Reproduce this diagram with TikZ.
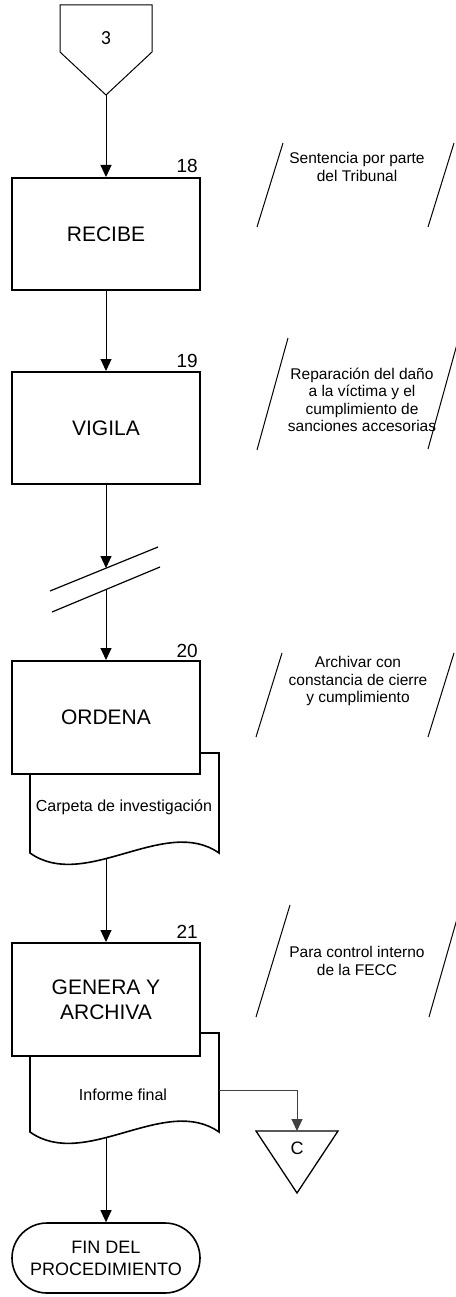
\documentclass[tikz,border=0pt]{standalone}
\usepackage{fontspec}
\setmainfont{Liberation Sans}
\newfontfamily\numfont{Carlito}
\usetikzlibrary{arrows.meta,calc}
\tikzset{
 stepbox/.style={draw, line width=2pt, fill=white, minimum width=188pt, minimum height=112pt, inner sep=0pt, font=\fontsize{21}{25}\selectfont, align=center},
 numlbl/.style={font=\fontsize{19}{22}\selectfont, anchor=base east, inner sep=0pt},
 annline/.style={line width=1pt},
 anntext/.style={font=\fontsize{15.5}{17.5}\selectfont, align=center, inner sep=0pt},
 doctext/.style={font=\fontsize{16}{19}\selectfont, inner sep=0pt},
 docline/.style={line width=1.6pt, fill=white},
 conn/.style={line width=1pt, -{Triangle[width=11pt,length=12pt]}},
 plainline/.style={line width=1.2pt},
}
\begin{document}
\begin{tikzpicture}[x=1pt,y=-1pt]
\useasboundingbox (0,0) rectangle (455,1297);

% off-page connector 3
\draw[line width=1pt] (60,5) -- (152,5) -- (152,52) -- (106,95) -- (60,52) -- cycle;
\node[font=\numfont\fontsize{20}{24}\selectfont, inner sep=0pt] (off3) at (106,38) {3};
\coordinate (offtip) at (106,95);

% documents (behind boxes)
\draw[docline] (30,753) -- (219,753) -- (219,853) .. controls (165,815) and (85,892) .. (30,853) -- cycle;
\node[doctext] (doc20) at (124,807) {Carpeta de investigación};
\coordinate (doc20b) at (106,859);

\draw[docline] (30,1033) -- (219,1033) -- (219,1132) .. controls (165,1094) and (85,1171) .. (30,1132) -- cycle;
\node[doctext] (doc21) at (123,1095) {Informe final};
\coordinate (doc21b) at (106,1138);
\coordinate (doc21r) at (219,1090);

% step boxes
\node[stepbox] (b18) at (106,234) {RECIBE};
\node[stepbox] (b19) at (106,428) {VIGILA};
\node[stepbox, minimum height=113pt] (b20) at (106,717.5) {ORDENA};
\node[stepbox, minimum height=113pt] (b21) at (106,999.5) {GENERA Y\\ARCHIVA};

\node[numlbl] (n18) at ([xshift=-3pt,yshift=4pt]b18.north east) {18};
\node[numlbl] (n19) at ([xshift=-3pt,yshift=4pt]b19.north east) {19};
\node[numlbl] (n20) at ([xshift=-3pt,yshift=3pt]b20.north east) {20};
\node[numlbl] (n21) at ([xshift=-3pt,yshift=4pt]b21.north east) {21};

% break marks
\draw[plainline] (50,591) -- (158,547);
\draw[plainline] (52,612) -- (160,567);
\coordinate (brkA) at (106,568);
\coordinate (brkB) at (106,589.5);

% end terminator
\node[draw, line width=1.6pt, rounded corners=35pt, minimum width=188pt, minimum height=70pt, inner sep=0pt, align=center, font=\fontsize{18}{22}\selectfont] (fin) at (106,1258) {FIN DEL\\PROCEDIMIENTO};

% connector C
\draw[line width=1.3pt] (256,1131) -- (338,1131) -- (297,1193) -- cycle;
\node[font=\fontsize{18}{22}\selectfont, inner sep=0pt] (C) at (297,1148) {C};
\coordinate (Ctop) at (297,1131);

% connectors
\draw[conn] (offtip) -- (b18.north);
\draw[conn] (b18.south) -- (b19.north);
\draw[conn] (b19.south) -- (brkA);
\draw[conn] (brkB) -- (b20.north);
\draw[conn] (doc20b) -- (b21.north);
\draw[conn] (doc21b) -- (fin.north);
\draw[conn, black!75] (doc21r) -| (Ctop);

% annotations
\draw[annline] (257,227) -- (283,143);
\draw[annline] (428,227) -- (454,143);
\node[anntext] (a18) at (357,167) {Sentencia por parte\\del Tribunal};

\draw[annline] (257,450) -- (288,338);
\draw[annline] (428,449) -- (459,337);
\node[anntext] (a19) at (362,400) {Reparación del daño\\a la víctima y el\\cumplimiento de\\sanciones accesorias};

\draw[annline] (256,737) -- (282,653);
\draw[annline] (428,737) -- (454,653);
\node[anntext] (a20) at (358,681) {Archivar con\\constancia de cierre\\y cumplimiento};

\draw[annline] (256,1017) -- (290,905);
\draw[annline] (429,1017) -- (461,905);
\node[anntext] (a21) at (357,961) {Para control interno\\de la FECC};
\end{tikzpicture}
\end{document}
